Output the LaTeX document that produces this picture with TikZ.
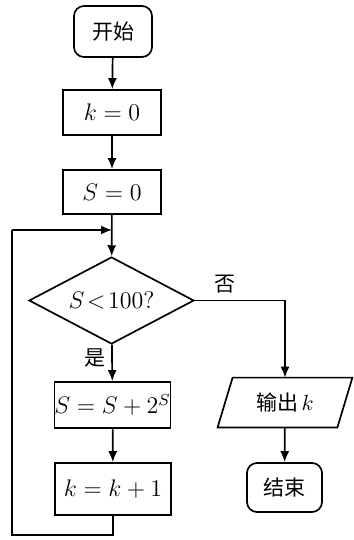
\documentclass[tikz,border=0pt]{standalone}
\usepackage{fontspec}
\newfontfamily\cjk{Noto Sans CJK SC}
\usetikzlibrary{shapes.geometric,arrows.meta}
\begin{document}
\begin{tikzpicture}[x=0.5pt,y=-0.5pt,
  every node/.style={font=\fontsize{12}{14}\selectfont},
  base/.style={draw,line width=0.85pt,inner sep=0pt},
  boxnode/.style={base,rectangle},
  termnode/.style={base,rectangle,rounded corners=5pt},
  decnode/.style={base,diamond,shape aspect=1.9},
  ionode/.style={rectangle,inner sep=0pt},
  arr/.style={line width=0.85pt,-{Latex[length=5.5pt,width=4.5pt]}},
  ln/.style={line width=0.85pt},
  lab/.style={font=\cjk\fontsize{10.5}{12}\selectfont}]
\useasboundingbox (0,0) rectangle (353,540);
\node[termnode,minimum width=39pt,minimum height=25.5pt] (start) at (113,31.5) {\cjk\fontsize{10.5}{12}\selectfont 开始};
\node[boxnode,minimum width=49pt,minimum height=22.5pt] (k0) at (112,112.5) {$k=0$};
\node[boxnode,minimum width=49pt,minimum height=22pt] (s0) at (112,192) {$S=0$};
\node[decnode,minimum width=82.5pt,minimum height=43.5pt] (dec) at (111.5,300.5) {$S\!<\!100?$};
\node[boxnode,minimum width=55.5pt,minimum height=23pt] (ss) at (112.5,405) {$S=S+2^S$};
\node[boxnode,minimum width=58pt,minimum height=26pt] (kk) at (113,489) {$k=k+1$};
\node[ionode,minimum width=59.5pt,minimum height=24.5pt] (out) at (285,402.5) {\cjk\fontsize{10.5}{12}\selectfont 输出\,\rmfamily$k$};
\draw[ln] ([xshift=-3.75pt]out.south west) -- ([xshift=-3.75pt]out.south east)
  -- ([xshift=3.75pt]out.north east) -- ([xshift=3.75pt]out.north west) -- cycle;
\node[termnode,minimum width=37.5pt,minimum height=24.5pt] (end) at (284.5,487.5) {\cjk\fontsize{10.5}{12}\selectfont 结束};
\node[lab] (no) at (225,284) {否};
\node[lab] (yes) at (95,358) {是};
\coordinate (j) at (112,230);
\coordinate (b) at (113,535);
\coordinate (l) at (12,535);
\coordinate (t) at (12,230);
\draw[arr] (start) -- (k0);
\draw[arr] (k0) -- (s0);
\draw[arr] (s0) -- (dec);
\draw[arr] (dec) -- (ss);
\draw[arr] (ss) -- (kk);
\draw[arr] (dec.east) -| (out.north);
\draw[arr] (out) -- (end);
\draw[ln] (kk.south) -- (b) -- (l) -- (t);
\draw[arr] (t) -- (j);
\end{tikzpicture}
\end{document}
